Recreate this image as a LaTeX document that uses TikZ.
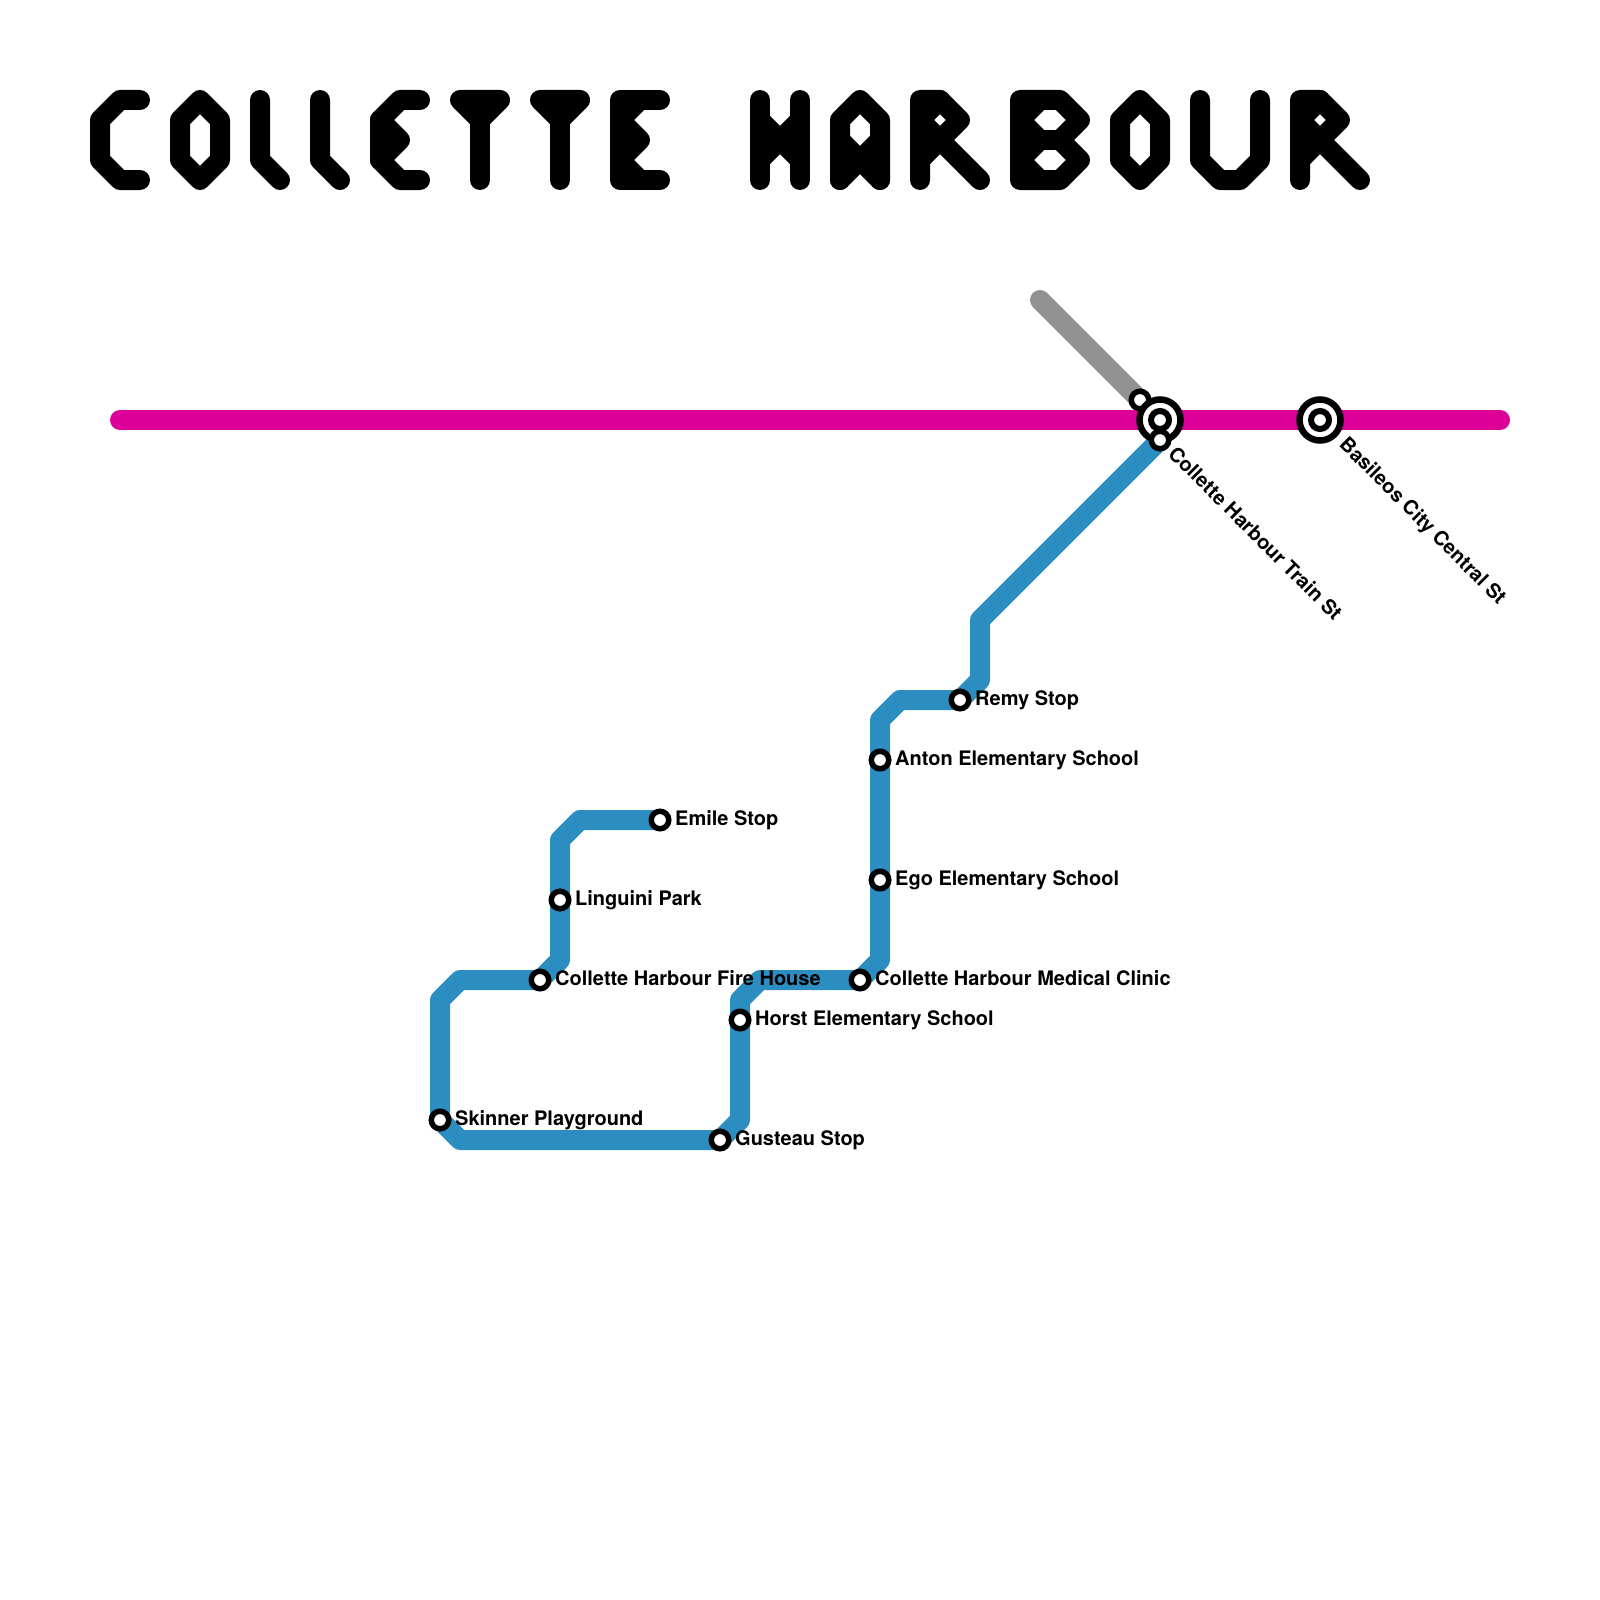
\documentclass[tikz,border=0pt]{standalone}
\usepackage{fontspec}
\setmainfont{TeX Gyre Heros}
\definecolor{blueline}{HTML}{2C8EC0}
\definecolor{pinkline}{HTML}{DC0099}
\definecolor{greyline}{HTML}{919191}
\tikzset{
  x=1pt,y=-1pt,
  route/.style={line width=20pt,line cap=round,line join=round},
  glyph/.style={line width=20pt,line cap=round,line join=round,black},
  stopdot/.style={circle,draw=black,fill=white,line width=5.5pt,minimum size=17.5pt,inner sep=0pt,outer sep=0pt},
  hubouter/.style={circle,draw=black,fill=white,line width=6.5pt,minimum size=41pt,inner sep=0pt,outer sep=0pt},
  hubinner/.style={circle,draw=black,fill=white,line width=6pt,minimum size=18pt,inner sep=0pt,outer sep=0pt},
  lab/.style={anchor=base west,font=\fontsize{20}{24}\selectfont\bfseries,inner sep=0pt,text=black},
  rlab/.style={anchor=base west,rotate=-45,font=\fontsize{20}{24}\selectfont\bfseries,inner sep=0pt,text=black},
}
\begin{document}
\begin{tikzpicture}
\useasboundingbox (0,0) rectangle (1600,1600);
% stations
\coordinate (emile) at (660,820);
\coordinate (linguini) at (560,900);
\coordinate (fire) at (540,980);
\coordinate (skinner) at (440,1120);
\coordinate (gusteau) at (720,1140);
\coordinate (horst) at (740,1020);
\coordinate (clinic) at (860,980);
\coordinate (ego) at (880,880);
\coordinate (anton) at (880,760);
\coordinate (remy) at (960,700);
\coordinate (trainblue) at (1160,440);
\coordinate (traingrey) at (1140,400);
\coordinate (hub) at (1160,420);
\coordinate (basileos) at (1320,420);
% line ends and bends
\coordinate (pinkA) at (120,420);
\coordinate (pinkB) at (1500,420);
\coordinate (greyA) at (1040,300);
\coordinate (b1) at (580,820);
\coordinate (b2) at (560,840);
\coordinate (b3) at (560,960);
\coordinate (b4) at (460,980);
\coordinate (b5) at (440,1000);
\coordinate (b6) at (460,1140);
\coordinate (b7) at (740,1120);
\coordinate (b8) at (740,1000);
\coordinate (b9) at (760,980);
\coordinate (b10) at (880,960);
\coordinate (b11) at (880,720);
\coordinate (b12) at (900,700);
\coordinate (b13) at (980,680);
\coordinate (b14) at (980,620);
% routes
\draw[route,greyline] (greyA) -- (traingrey);
\draw[route,pinkline] (pinkA) -- (pinkB);
\draw[route,blueline] (emile) -- (b1) -- (b2) -- (linguini) -- (b3) -- (fire) -- (b4) -- (b5) -- (skinner) -- (b6) -- (gusteau) -- (b7) -- (b8) -- (horst) -- (b8) -- (b9) -- (clinic) -- (b10) -- (ego) -- (anton) -- (b11) -- (b12) -- (remy) -- (b13) -- (b14) -- (trainblue);
% title
\draw[glyph] (140,100) -- (120,100) -- (100,120) -- (100,160) -- (120,180) -- (140,180);
\draw[glyph] (200,100) -- (220,120) -- (220,160) -- (200,180) -- (180,160) -- (180,120) -- cycle;
\draw[glyph] (260,100) -- (260,160) -- (280,180);
\draw[glyph] (320,100) -- (320,160) -- (340,180);
\draw[glyph] (420,100) -- (400,100) -- (380,120) -- (380,160) -- (400,180) -- (420,180);
\draw[glyph] (380,120) -- (400,140) -- (380,160);
\draw[glyph] (460,100) -- (500,100) -- (480,120) -- (460,100);
\draw[glyph] (480,120) -- (480,180);
\draw[glyph] (540,100) -- (580,100) -- (560,120) -- (540,100);
\draw[glyph] (560,120) -- (560,180);
\draw[glyph] (660,100) -- (620,100) -- (620,180) -- (660,180);
\draw[glyph] (640,100) -- (620,120) -- (640,140) -- (620,160) -- (640,180);
\draw[glyph] (760,100) -- (760,180);
\draw[glyph] (800,100) -- (800,180);
\draw[glyph] (760,120) -- (800,160);
\draw[glyph] (800,120) -- (760,160);
\draw[glyph] (840,180) -- (840,120) -- (860,100) -- (880,120) -- (880,180);
\draw[glyph] (840,140) -- (860,160) -- (880,140);
\draw[glyph] (840,180) -- (860,160) -- (880,180);
\draw[glyph] (920,180) -- (920,100) -- (940,100) -- (960,120) -- (940,140) -- (980,180);
\draw[glyph] (920,120) -- (940,100);
\draw[glyph] (920,120) -- (940,140) -- (920,160);
\draw[glyph] (1020,100) -- (1060,100) -- (1080,120) -- (1060,140) -- (1080,160) -- (1060,180) -- (1020,180) -- cycle;
\draw[glyph] (1040,100) -- (1020,120) -- (1040,140) -- (1020,160) -- (1040,180);
\draw[glyph] (1040,140) -- (1060,140);
\draw[glyph] (1140,100) -- (1160,120) -- (1160,160) -- (1140,180) -- (1120,160) -- (1120,120) -- cycle;
\draw[glyph] (1200,100) -- (1200,160) -- (1220,180) -- (1240,180) -- (1260,160) -- (1260,100);
\draw[glyph] (1300,180) -- (1300,100) -- (1320,100) -- (1340,120) -- (1320,140) -- (1360,180);
\draw[glyph] (1300,120) -- (1320,100);
\draw[glyph] (1300,120) -- (1320,140) -- (1300,160);
% stops
\node[stopdot] (ngrey) at (traingrey) {};
\node[hubouter] (nhub) at (hub) {};
\node[hubinner] (nhubi) at (hub) {};
\node[stopdot] (nblue) at (trainblue) {};
\node[hubouter] (nbas) at (basileos) {};
\node[hubinner] (nbasi) at (basileos) {};
\node[stopdot] (nemile) at (emile) {};
\node[stopdot] (nlinguini) at (linguini) {};
\node[stopdot] (nfire) at (fire) {};
\node[stopdot] (nskinner) at (skinner) {};
\node[stopdot] (ngusteau) at (gusteau) {};
\node[stopdot] (nhorst) at (horst) {};
\node[stopdot] (nclinic) at (clinic) {};
\node[stopdot] (nego) at (ego) {};
\node[stopdot] (nanton) at (anton) {};
\node[stopdot] (nremy) at (remy) {};
% labels
\node[lab] (lemile) at (675,825) {Emile Stop};
\node[lab] (llinguini) at (575,905) {Linguini Park};
\node[lab] (lfire) at (555,985) {Collette Harbour Fire House};
\node[lab] (lskinner) at (455,1125) {Skinner Playground};
\node[lab] (lgusteau) at (735,1145) {Gusteau Stop};
\node[lab] (lhorst) at (755,1025) {Horst Elementary School};
\node[lab] (lclinic) at (875,985) {Collette Harbour Medical Clinic};
\node[lab] (lego) at (895,885) {Ego Elementary School};
\node[lab] (lanton) at (895,765) {Anton Elementary School};
\node[lab] (lremy) at (975,705) {Remy Stop};
\node[rlab] (ltrain) at (1167,455) {Collette Harbour Train St};
\node[rlab] (lbas) at (1338.3,445.7) {Basileos City Central St};
\end{tikzpicture}
\end{document}
